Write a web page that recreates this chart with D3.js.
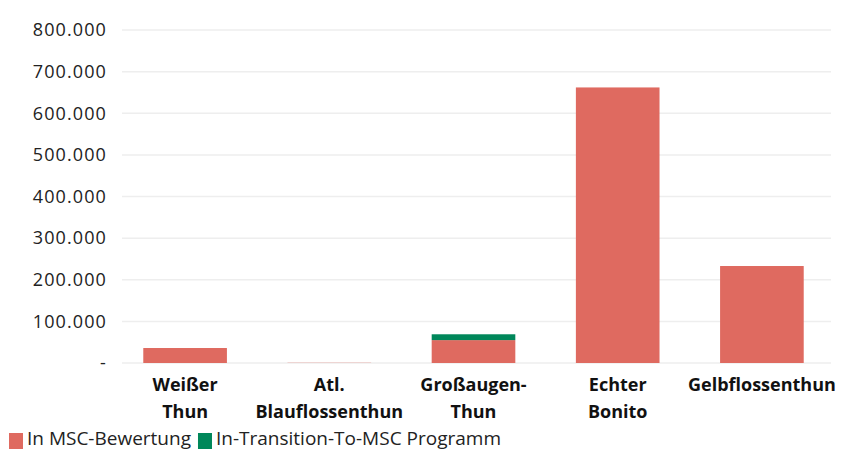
<!DOCTYPE html>
<html><head><meta charset="utf-8">
<script src="https://cdn.jsdelivr.net/npm/d3@7"></script>
<style>body{margin:0;background:#fff}svg{display:block}</style>
</head><body>
<svg id="c" width="852" height="450"></svg>
<script>
const categories = [["Weißer","Thun"],["Atl.","Blauflossenthun"],["Großaugen-","Thun"],["Echter","Bonito"],["Gelbflossenthun"]];
const inMSC = [36000, 500, 55000, 662000, 233000];
const transition = [0, 0, 14000, 0, 0];
const yTicks = [0,100000,200000,300000,400000,500000,600000,700000,800000];
const seriesNames = ["In MSC-Bewertung","In-Transition-To-MSC Programm"];
const colors = ["#DF6A60","#00875A"];

const svg = d3.select("#c");
const font = "'Open Sans', 'Noto Sans', sans-serif";
const x = d3.scaleBand().domain(d3.range(categories.length)).range([113,834]).paddingInner(0.42).paddingOuter(0.21);
const y = d3.scaleLinear().domain([0,800000]).range([363,30]);
const fmt = v => v===0 ? "-" : d3.format(",")(v).replace(/,/g,".");

// grid
svg.append("g").selectAll("line").data(yTicks).join("line")
  .attr("x1",122).attr("x2",831).attr("y1",d=>y(d)).attr("y2",d=>y(d))
  .attr("stroke","#eeeeee").attr("stroke-width",1.5);

const yAxis = svg.append("g").attr("transform","translate(122,0)")
  .call(d3.axisLeft(y).tickValues(yTicks).tickFormat(fmt).tickSize(0).tickPadding(15));
yAxis.select(".domain").remove();
yAxis.selectAll("text").attr("font-family",font).attr("font-size",18).attr("letter-spacing",1.1).attr("fill","#222");

// bars
const stacked = categories.map((c,i)=>[[0,inMSC[i]],[inMSC[i],inMSC[i]+transition[i]]]);
[0,1].forEach(s=>{
  svg.append("g").selectAll("rect").data(stacked).join("rect")
    .attr("x",(d,i)=>x(i)).attr("width",x.bandwidth())
    .attr("y",d=>y(d[s][1])).attr("height",d=>Math.max(0,y(d[s][0])-y(d[s][1])))
    .attr("fill",colors[s]);
});

// category labels
const xl = svg.append("g");
categories.forEach((lines,i)=>{
  const t = xl.append("text").attr("text-anchor","middle").attr("font-family",font)
    .attr("font-weight","bold").attr("font-size",18).attr("fill","#111");
  lines.forEach((l,j)=>t.append("tspan").attr("x",x(i)+x.bandwidth()/2).attr("y",391+j*27).text(l));
});

// legend
const lg = svg.append("g");
let lx = 9;
seriesNames.forEach((n,i)=>{
  lg.append("rect").attr("x",lx).attr("y",433).attr("width",14).attr("height",16).attr("fill",colors[i]);
  const t = lg.append("text").attr("x",lx+18).attr("y",445).attr("font-family",font).attr("font-size",19).attr("fill","#222").text(n);
  lx += 18 + t.node().getComputedTextLength() + 7;
});
</script>
</body></html>
